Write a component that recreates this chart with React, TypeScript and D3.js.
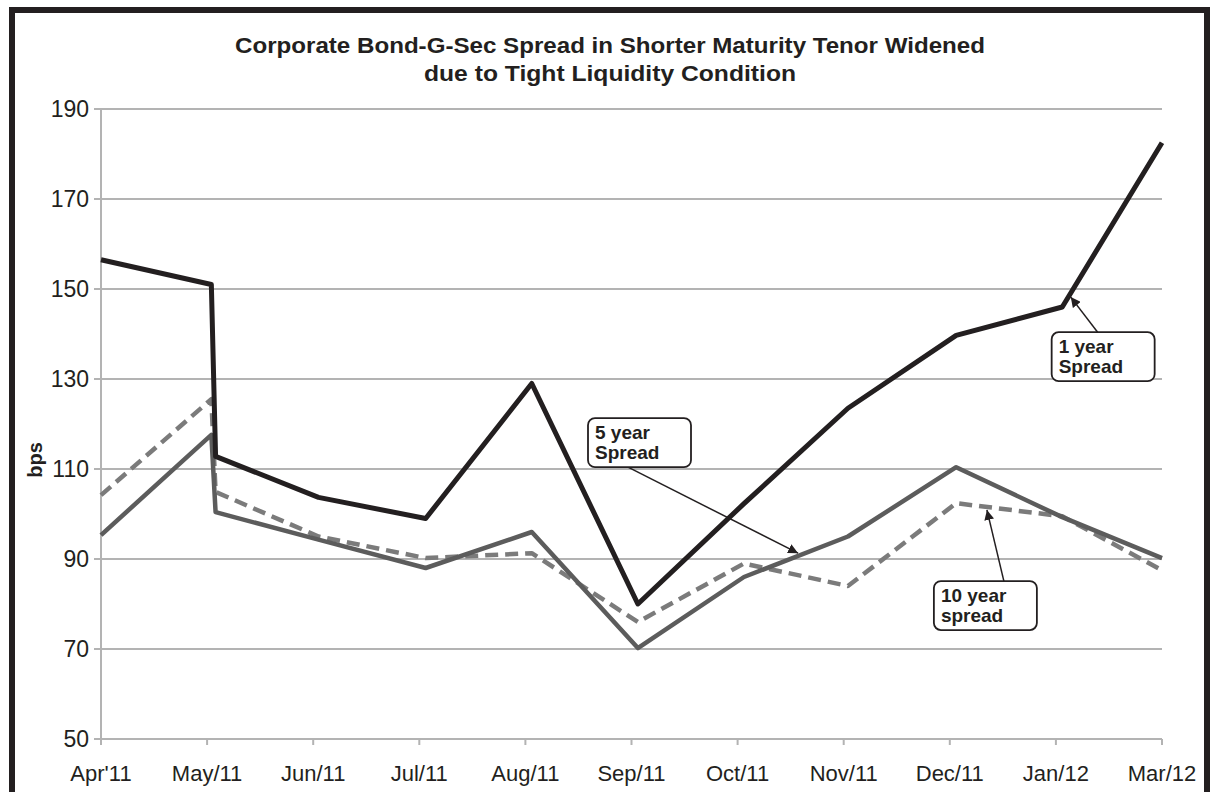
import * as d3 from "d3";

// month labels on the category axis
const monthLabels = [
  "Apr'11", "May/11", "Jun/11", "Jul/11", "Aug/11", "Sep/11",
  "Oct/11", "Nov/11", "Dec/11", "Jan/12", "Mar/12",
];

// position of each observation along the month axis (May has a second reading just after it)
const obsPos = [0, 1.04, 1.08, 2.05, 3.06, 4.06, 5.06, 6.06, 7.04, 8.06, 9.06, 10];

const oneYear = [156.5, 151, 112.8, 103.7, 99, 129, 80, 102.3, 123.5, 139.7, 146, 182.5];
const fiveYear = [95.3, 117.6, 100.4, 94.3, 88, 96, 70.2, 86, 95, 110.4, 99.3, 90.2];
const tenYear = [104.2, 125.5, 104.9, 95, 90.2, 91.3, 76, 89, 84, 102.4, 99.5, 87.5];

const yTicks = [50, 70, 90, 110, 130, 150, 170, 190];

type Callout = {
  lines: string[];
  boxPos: number; // month position of box left edge
  boxVal: number; // value at box top edge
  tipPos: number;
  tipVal: number;
  tailDx: number; // where the leader leaves the box
  fromTop: boolean;
};

const callouts: Callout[] = [
  { lines: ["1 year", "Spread"], boxPos: 8.96, boxVal: 140.4, tipPos: 9.14, tipVal: 148.2, tailDx: 46, fromTop: true },
  { lines: ["5 year", "Spread"], boxPos: 4.59, boxVal: 121.3, tipPos: 6.57, tipVal: 91.3, tailDx: 40, fromTop: false },
  { lines: ["10 year", "spread"], boxPos: 7.85, boxVal: 85.1, tipPos: 8.35, tipVal: 100.9, tailDx: 70, fromTop: true },
];

const W = 1210;
const H = 792;
const FONT = "'Liberation Sans', Arial, Helvetica, sans-serif";

export default function App() {
  const x = d3.scaleLinear().domain([0, monthLabels.length - 1]).range([101, 1162]);
  const y = d3.scaleLinear().domain([50, 190]).range([739, 109]);

  const line = d3
    .line<number>()
    .x((_, i) => x(obsPos[i]))
    .y((d) => y(d));

  const boxW = 103;
  const boxH = 49;

  return (
    <svg
      width={W}
      height={H}
      viewBox={`0 0 ${W} ${H}`}
      style={{ position: "absolute", left: 0, top: 0, background: "#fff" }}
      fontFamily={FONT}
    >
      <defs>
        <marker id="arrowHead" viewBox="0 0 10 10" refX="10" refY="5" markerWidth="10" markerHeight="10" orient="auto" markerUnits="userSpaceOnUse">
          <path d="M0,0 L10,5 L0,10 z" fill="#231f20" />
        </marker>
      </defs>

      {/* outer frame */}
      <path d={`M12,${H + 10} L12,10 L1207,10 L1207,${H + 10}`} fill="none" stroke="#231f20" strokeWidth={6} />

      {/* title */}
      <text x={610} y={53} textAnchor="middle" fontSize={22} fontWeight="bold" fill="#231f20" textLength={750} lengthAdjust="spacingAndGlyphs">
        Corporate Bond-G-Sec Spread in Shorter Maturity Tenor Widened
      </text>
      <text x={610} y={81} textAnchor="middle" fontSize={22} fontWeight="bold" fill="#231f20" textLength={372} lengthAdjust="spacingAndGlyphs">
        due to Tight Liquidity Condition
      </text>

      {/* grid + y axis */}
      {yTicks.map((t) => (
        <g key={t}>
          <line x1={x(0)} x2={x(10)} y1={y(t)} y2={y(t)} stroke="#b3b3b3" strokeWidth={2} />
          <line x1={x(0) - 7} x2={x(0)} y1={y(t)} y2={y(t)} stroke="#b3b3b3" strokeWidth={2} />
          <text x={x(0) - 12} y={y(t) + 8} textAnchor="end" fontSize={23} fill="#231f20">
            {t}
          </text>
        </g>
      ))}
      <line x1={x(0)} x2={x(0)} y1={y(190)} y2={y(50)} stroke="#b3b3b3" strokeWidth={2} />

      {/* x axis ticks + labels */}
      {monthLabels.map((m, i) => (
        <g key={m}>
          <line x1={x(i)} x2={x(i)} y1={y(50)} y2={y(50) + 6} stroke="#b3b3b3" strokeWidth={2} />
          <text x={x(i)} y={781} textAnchor="middle" fontSize={22} fill="#231f20">
            {m}
          </text>
        </g>
      ))}

      <text
        transform={`translate(42,${y(112)}) rotate(-90)`}
        textAnchor="middle"
        fontSize={20}
        fontWeight="bold"
        fill="#231f20"
      >
        bps
      </text>

      {/* series */}
      <path d={line(tenYear) ?? undefined} fill="none" stroke="#7b7b7b" strokeWidth={4.5} strokeDasharray="13,7" strokeLinejoin="round" />
      <path d={line(fiveYear) ?? undefined} fill="none" stroke="#5c5c5c" strokeWidth={4.5} strokeLinejoin="round" />
      <path d={line(oneYear) ?? undefined} fill="none" stroke="#231f20" strokeWidth={5} strokeLinejoin="round" />

      {/* callouts */}
      {callouts.map((c) => {
        const bx = x(c.boxPos);
        const by = y(c.boxVal);
        const tx = bx + c.tailDx;
        const ty = c.fromTop ? by : by + boxH;
        return (
          <g key={c.lines.join(" ")}>
            <line
              x1={tx}
              y1={ty}
              x2={x(c.tipPos)}
              y2={y(c.tipVal)}
              stroke="#231f20"
              strokeWidth={1.5}
              markerEnd="url(#arrowHead)"
            />
            <rect x={bx} y={by} width={boxW} height={boxH} rx={7} fill="#fff" stroke="#231f20" strokeWidth={1.8} />
            {c.lines.map((l, k) => (
              <text key={l} x={bx + 7} y={by + 21 + k * 20} fontSize={19} fontWeight="bold" fill="#231f20">
                {l}
              </text>
            ))}
          </g>
        );
      })}
    </svg>
  );
}
